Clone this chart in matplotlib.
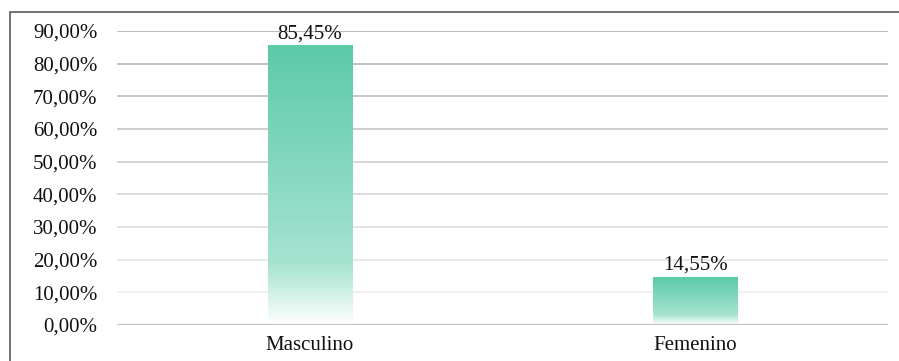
import numpy as np
import matplotlib.pyplot as plt
from matplotlib.colors import LinearSegmentedColormap, to_rgb
from matplotlib.patches import Rectangle

categories = ['Masculino', 'Femenino']
shares = [85.45, 14.55]
y_ticks = [0, 10, 20, 30, 40, 50, 60, 70, 80, 90]

plt.rcParams['font.family'] = ['Liberation Serif', 'DejaVu Serif']

fig = plt.figure(figsize=(8.99, 3.61), dpi=100)
ax = fig.add_axes([0.1301, 0.0997, 0.8577, 0.8144])

x = np.arange(len(categories))
bars = ax.bar(x, shares, width=0.218, facecolor='none', edgecolor='none', zorder=3)

# teal at the top, fading to white at the bottom of each bar
fade = LinearSegmentedColormap.from_list(
    'fade', [(0.0, '#5ccaa9'), (0.78, '#a6e3d0'), (1.0, '#ffffff')])
grad = np.linspace(0, 1, 256).reshape(-1, 1)
for rect in bars:
    x0, w, h = rect.get_x(), rect.get_width(), rect.get_height()
    ax.imshow(grad, cmap=fade, aspect='auto', extent=(x0, x0 + w, 0, h),
              origin='upper', zorder=3, interpolation='bilinear')

ax.set_xlim(-0.5, 1.5)
ax.set_ylim(0, 90)

# gridlines get darker toward the top
light = np.array(to_rgb('#ededed'))
dark = np.array(to_rgb('#b0b0b0'))
for t in y_ticks[1:]:
    f = (t - 10) / 80
    ax.axhline(t, color=light + (dark - light) * f, lw=1.2, zorder=1)
ax.axhline(0, color='#c4c4c4', lw=1.6, zorder=4)

for s in ax.spines.values():
    s.set_visible(False)

ax.set_yticks(y_ticks)
ax.set_yticklabels([f'{t:.2f}%'.replace('.', ',') for t in y_ticks])
ax.set_xticks(x)
ax.set_xticklabels(categories)
ax.tick_params(axis='y', length=0, pad=14, labelsize=15, labelcolor='#111111')
ax.tick_params(axis='x', length=0, pad=8, labelsize=15, labelcolor='#111111')

for xi, v in zip(x, shares):
    ax.annotate(f'{v:.2f}%'.replace('.', ','), (xi, v), xytext=(0, 2),
                textcoords='offset points', ha='center', va='bottom',
                fontsize=15, color='#111111', zorder=5)

# outer frame, open at the right and bottom edges
fig.patches.append(Rectangle((10 / 899, -0.2), 1.2, 1.2 - 12 / 361,
                             transform=fig.transFigure, fill=False,
                             edgecolor='#595959', lw=1.2, clip_on=False))

fig.savefig('out.png', dpi=100)
